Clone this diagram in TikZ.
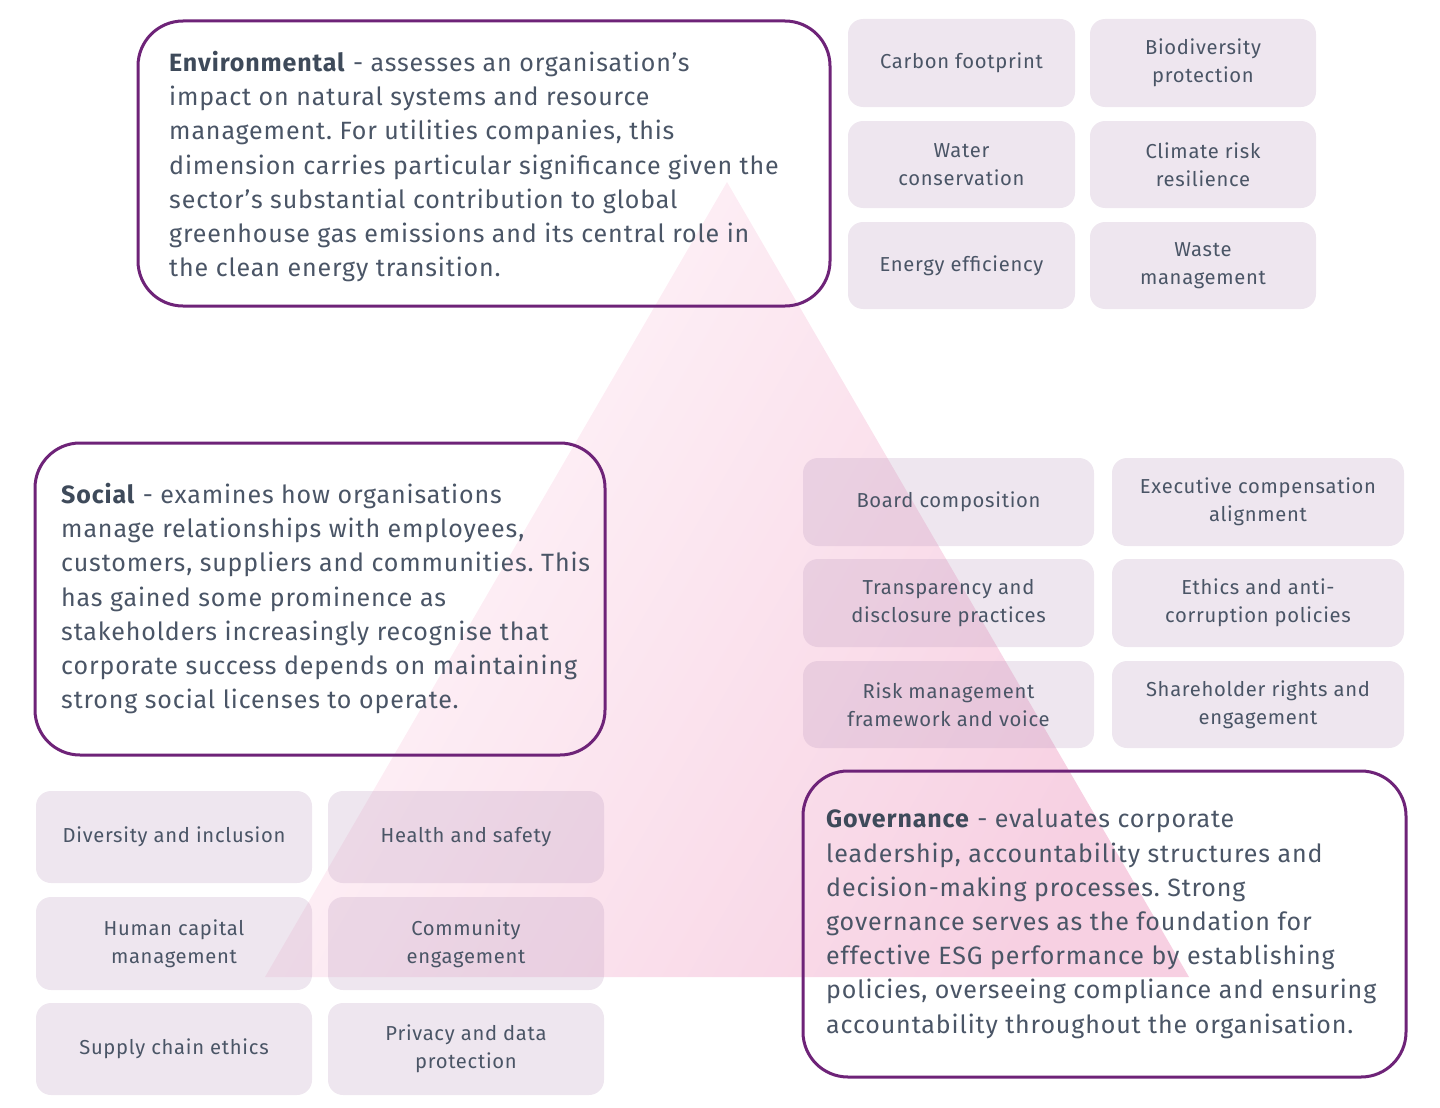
\documentclass[tikz,border=0pt]{standalone}
\usepackage{fontspec}
\setmainfont{Fira Sans}[LetterSpace=3.5]
\usetikzlibrary{shapes.misc}
\frenchspacing
\definecolor{txt}{RGB}{74,85,102}
\definecolor{txtb}{RGB}{62,74,90}
\definecolor{frame}{RGB}{110,35,120}
\definecolor{tagc}{RGB}{187,155,191}
\definecolor{pinkhi}{RGB}{247,208,226}
\definecolor{pinklo}{RGB}{255,248,251}
\tikzset{
  bigbox/.style={draw=frame, line width=3pt, rounded corners=45pt, inner sep=0pt, fill=none},
  para/.style={anchor=north west, inner sep=0pt, align=left, text=txt,
    font=\fontsize{25}{34.2}\selectfont\frenchspacing},
  tagbox/.style={rounded corners=15pt, fill=tagc, fill opacity=0.25, text opacity=1,
    inner sep=0pt, align=center, text=txt, font=\fontsize{20.2}{28}\selectfont},
}
\begin{document}
\begin{tikzpicture}[x=1pt,y=-1pt]
\useasboundingbox (0,0) rectangle (1440,1108);
% pyramid
\coordinate (apex) at (727,182);
\coordinate (bl) at (265,977);
\coordinate (br) at (1189,977);
\shade[left color=pinklo, right color=pinkhi, shading angle=60] (apex) -- (br) -- (bl) -- cycle;

% Environmental
\node[bigbox, minimum width=692pt, minimum height=285pt] (envbox) at (484,163.5) {};
\node[para] (envtext) at (169,51) {\textcolor{txtb}{\textbf{Environmental}} - assesses an organisation’s\\
impact on natural systems and resource\\
management. For utilities companies, this\\
dimension carries particular significance given the\\
sector’s substantial contribution to global\\
greenhouse gas emissions and its central role in\\
the clean energy transition.};

\node[tagbox, minimum width=227pt, minimum height=88pt] (e1) at (961.5,63) {Carbon footprint};
\node[tagbox, minimum width=226pt, minimum height=88pt] (e2) at (1203,63) {Biodiversity\\protection};
\node[tagbox, minimum width=227pt, minimum height=87pt] (e3) at (961.5,164.5) {Water\\conservation};
\node[tagbox, minimum width=226pt, minimum height=87pt] (e4) at (1203,164.5) {Climate risk\\resilience};
\node[tagbox, minimum width=227pt, minimum height=87pt] (e5) at (961.5,265.5) {Energy efficiency};
\node[tagbox, minimum width=226pt, minimum height=87pt] (e6) at (1203,265.5) {Waste\\management};

% Social
\node[bigbox, minimum width=570pt, minimum height=312pt] (socbox) at (320,599) {};
\node[para] (soctext) at (61,483) {\textcolor{txtb}{\textbf{Social}} - examines how organisations\\
manage relationships with employees,\\
customers, suppliers and communities. This\\
has gained some prominence as\\
stakeholders increasingly recognise that\\
corporate success depends on maintaining\\
strong social licenses to operate.};

\node[tagbox, minimum width=276pt, minimum height=92pt] (s1) at (174,837) {Diversity and inclusion};
\node[tagbox, minimum width=276pt, minimum height=92pt] (s2) at (466,837) {Health and safety};
\node[tagbox, minimum width=276pt, minimum height=93pt] (s3) at (174,943.5) {Human capital\\management};
\node[tagbox, minimum width=276pt, minimum height=93pt] (s4) at (466,943.5) {Community\\engagement};
\node[tagbox, minimum width=276pt, minimum height=92pt] (s5) at (174,1049) {Supply chain ethics};
\node[tagbox, minimum width=276pt, minimum height=92pt] (s6) at (466,1049) {Privacy and data\\protection};

% Governance
\node[tagbox, minimum width=291pt, minimum height=88pt] (g1) at (948.5,502) {Board composition};
\node[tagbox, minimum width=292pt, minimum height=88pt] (g2) at (1258,502) {Executive compensation\\alignment};
\node[tagbox, minimum width=291pt, minimum height=88pt] (g3) at (948.5,603) {Transparency and\\disclosure practices};
\node[tagbox, minimum width=292pt, minimum height=88pt] (g4) at (1258,603) {Ethics and anti-\\corruption policies};
\node[tagbox, minimum width=291pt, minimum height=87pt] (g5) at (948.5,704.5) {Risk management\\framework and voice};
\node[tagbox, minimum width=292pt, minimum height=87pt] (g6) at (1258,704.5) {Shareholder rights and\\engagement};

\node[bigbox, minimum width=603pt, minimum height=306pt] (govbox) at (1104.5,924) {};
\node[para] (govtext) at (826,809) {\textcolor{txtb}{\textbf{Governance}} - evaluates corporate\\
leadership, accountability structures and\\
decision-making processes. Strong\\
governance serves as the foundation for\\
effective ESG performance by establishing\\
policies, overseeing compliance and ensuring\\
accountability throughout the organisation.};
\end{tikzpicture}
\end{document}
